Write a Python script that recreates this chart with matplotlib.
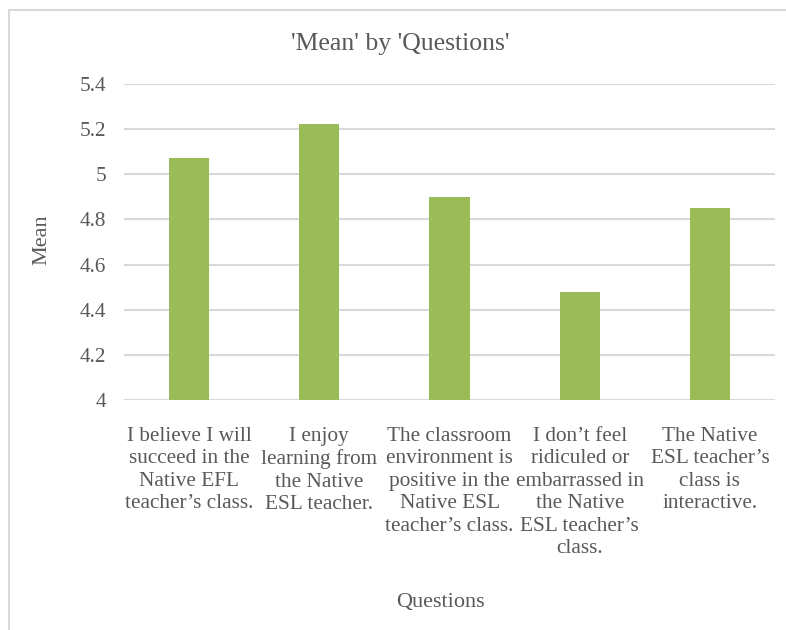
import matplotlib
matplotlib.use("Agg")
import matplotlib.pyplot as plt
from matplotlib.patches import Rectangle

categories = [
    "I believe I will\nsucceed in the\nNative EFL\nteacher\u2019s class.",
    "I enjoy\nlearning from\nthe Native\nESL teacher.",
    "The classroom\nenvironment is\npositive in the\nNative ESL\nteacher\u2019s class.",
    "I don\u2019t feel\nridiculed or\nembarrassed in\nthe Native\nESL teacher\u2019s\nclass.",
    "The Native\nESL teacher\u2019s\nclass is\ninteractive.",
]
means = [5.07, 5.22, 4.90, 4.48, 4.85]
yticks = [4, 4.2, 4.4, 4.6, 4.8, 5, 5.2, 5.4]
ytick_labels = ["4", "4.2", "4.4", "4.6", "4.8", "5", "5.2", "5.4"]

TXT = "#595959"
GRID = "#D9D9D9"
BAR = "#9BBB59"
plt.rcParams['font.family'] = ['Liberation Serif', 'DejaVu Serif']

W, H = 786, 630
fig = plt.figure(figsize=(W / 100, H / 100), dpi=100)
fig.patch.set_facecolor("white")

# chart border
fig.patches.append(Rectangle((9 / W, -0.05), 1.2, 1 - 10 / H + 0.05, transform=fig.transFigure,
                             fill=False, edgecolor=GRID, linewidth=1.5, zorder=0))

ax = fig.add_axes([124 / W, 1 - 400.3 / H, 651 / W, (400.3 - 83.7) / H])
x = list(range(len(categories)))
ax.bar(x, means, width=0.31, color=BAR, zorder=3)
ax.set_ylim(4, 5.4)
ax.set_xlim(-0.5, len(categories) - 0.5)
ax.set_yticks(yticks)
ax.set_yticklabels(ytick_labels)
ax.set_xticks(x)
ax.set_xticklabels(categories, linespacing=1.25)
ax.tick_params(axis='both', length=0, colors=TXT, labelsize=15.3)
ax.tick_params(axis='y', pad=13)
ax.tick_params(axis='x', pad=19)
for s in ax.spines.values():
    s.set_visible(False)
ax.yaxis.grid(True, color=GRID, linewidth=1.5, zorder=0)
ax.set_axisbelow(True)

fig.text(400 / W, 1 - 44 / H, "'Mean' by 'Questions'", ha='center', va='center',
         fontsize=18.5, color=TXT)
fig.text(42 / W, 1 - 240 / H, "Mean", ha='center', va='center', rotation=90,
         fontsize=16, color=TXT)
fig.text(440 / W, 1 - 602 / H, "Questions", ha='center', va='center',
         fontsize=16, color=TXT)

fig.savefig("out.png", dpi=100)
